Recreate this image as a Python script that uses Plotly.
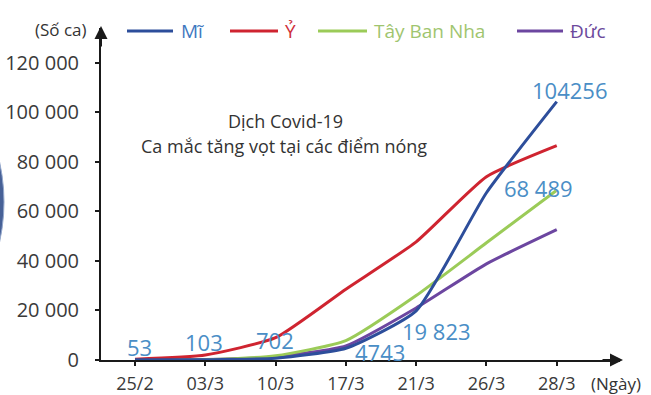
import plotly.graph_objects as go

# ---- data ----
dates = ["25/2", "03/3", "10/3", "17/3", "21/3", "26/3", "28/3"]
my = [53, 103, 702, 4743, 19823, 67500, 104256]          # Mĩ
y_it = [320, 2000, 9000, 28600, 47700, 74000, 86500]      # Ý
tbn = [0, 150, 1700, 7800, 26000, 47300, 68489]           # Tây Ban Nha
duc = [16, 200, 1300, 5700, 21000, 38800, 52600]          # Đức

y_ticks = [0, 20000, 40000, 60000, 80000, 100000, 120000]
y_ticktext = ["0", "20 000", "40 000", "60 000", "80 000", "100 000", "120 000"]

us_labels = ["53", "103", "702", "4743", "19 823", None, "104256"]
tbn_label = "68 489"

series = [
    ("Mĩ", my, "#2d4e9b", "#3f78bf"),
    ("Ỷ", y_it, "#cf2430", "#cf2f3a"),
    ("Tây Ban Nha", tbn, "#9bcb58", "#9fc56f"),
    ("Đức", duc, "#6c46a0", "#6c4a9c"),
]

x_idx = list(range(len(dates)))
FONT = "Open Sans"

fig = go.Figure()
# draw order: purple, green, red, blue on top
for name, vals, col, _ in [series[3], series[2], series[1], series[0]]:
    fig.add_trace(go.Scatter(
        x=x_idx, y=vals, mode="lines", name=name,
        line=dict(color=col, width=3, shape="spline", smoothing=0.5),
        showlegend=False, cliponaxis=False,
    ))

annotations = []
# data labels for Mĩ
lab_shift = [(5, 13), (-1, 18), (-1, 18), (34, -4), (20, -20), (0, 0), (13, 12)]
for i, t in enumerate(us_labels):
    if t is None:
        continue
    annotations.append(dict(
        x=x_idx[i], y=my[i], xref="x", yref="y", text=t, showarrow=False,
        xshift=lab_shift[i][0], yshift=lab_shift[i][1],
        font=dict(family=FONT, size=22, color="#4a8ec6"),
    ))
annotations.append(dict(
    x=x_idx[-1], y=tbn[-1], xref="x", yref="y", text=tbn_label, showarrow=False,
    xshift=-18, yshift=2, font=dict(family=FONT, size=22, color="#4a8ec6"),
))

# legend (manual)
def px2x(px):
    return (px - 101) / 519.0

def py2y(py):
    return (360 - py) / 332.0

leg_y = py2y(31)
leg = [(127, 173, 179), (230, 278, 283), (318, 367, 372), (517, 563, 568)]
shapes = []
for (name, vals, col, tcol), (l0, l1, tx) in zip(series, leg):
    shapes.append(dict(type="line", xref="paper", yref="paper",
                       x0=px2x(l0), x1=px2x(l1), y0=leg_y, y1=leg_y,
                       line=dict(color=col, width=3)))
    annotations.append(dict(x=px2x(tx), y=leg_y, xref="paper", yref="paper",
                            text=name, showarrow=False, xanchor="left", yanchor="middle",
                            font=dict(family=FONT, size=19, color=tcol)))

# axis labels
annotations.append(dict(x=px2x(89), y=py2y(30), xref="paper", yref="paper",
                        text="(Số ca)", showarrow=False, xanchor="right", yanchor="middle",
                        font=dict(family=FONT, size=17, color="#333")))
annotations.append(dict(x=px2x(589), y=py2y(383), xref="paper", yref="paper",
                        text="(Ngày)", showarrow=False, xanchor="left", yanchor="middle",
                        font=dict(family=FONT, size=17, color="#333")))
# title text
annotations.append(dict(x=px2x(285), y=py2y(121), xref="paper", yref="paper",
                        text="Dịch Covid-19", showarrow=False, yanchor="middle",
                        font=dict(family=FONT, size=18, color="#333")))
annotations.append(dict(x=px2x(284), y=py2y(146), xref="paper", yref="paper",
                        text="Ca mắc tăng vọt tại các điểm nóng", showarrow=False, yanchor="middle",
                        font=dict(family=FONT, size=18, color="#333")))
# axis arrows
annotations.append(dict(x=px2x(623), y=0, xref="paper", yref="paper", ax=-22, ay=0,
                        text="", showarrow=True, arrowhead=2, arrowsize=1.3,
                        arrowwidth=2, arrowcolor="#1a1a1a"))
annotations.append(dict(x=0, y=py2y(26), xref="paper", yref="paper", ax=0, ay=22,
                        text="", showarrow=True, arrowhead=2, arrowsize=1.3,
                        arrowwidth=2, arrowcolor="#1a1a1a"))

# decorative page edge artifact (thin dark blue strip at the left edge)
shapes.append(dict(type="circle", xref="paper", yref="paper", layer="below",
                   x0=px2x(-796), x1=px2x(4), y0=py2y(472), y1=py2y(-68),
                   fillcolor="#34508c", line=dict(width=1, color="#8aa0c8"), opacity=0.9))

fig.update_layout(
    width=651, height=395,
    margin=dict(l=101, r=31, t=28, b=35, autoexpand=False),
    paper_bgcolor="white", plot_bgcolor="white",
    annotations=annotations, shapes=shapes,
    xaxis=dict(
        range=[-0.4836, 6.9], tickmode="array", tickvals=x_idx, ticktext=dates,
        showgrid=False, zeroline=False, showline=True, linecolor="#1a1a1a", linewidth=2,
        ticks="outside", ticklen=4, tickwidth=2, tickcolor="#1a1a1a", automargin=False,
        tickfont=dict(family=FONT, size=18, color="#3a3a3a"), ticklabelstandoff=2,
    ),
    yaxis=dict(
        range=[0, 134000], tickmode="array", tickvals=y_ticks, ticktext=y_ticktext,
        showgrid=False, zeroline=False, showline=True, linecolor="#1a1a1a", linewidth=2,
        ticks="outside", ticklen=4, tickwidth=2, tickcolor="#1a1a1a", automargin=False,
        tickfont=dict(family=FONT, size=20, color="#3a3a3a"), ticklabelstandoff=12,
    ),
)

fig.write_html("out.html", config={"displayModeBar": False},
               post_script="document.body.style.margin='0';document.body.style.overflow='hidden';")
